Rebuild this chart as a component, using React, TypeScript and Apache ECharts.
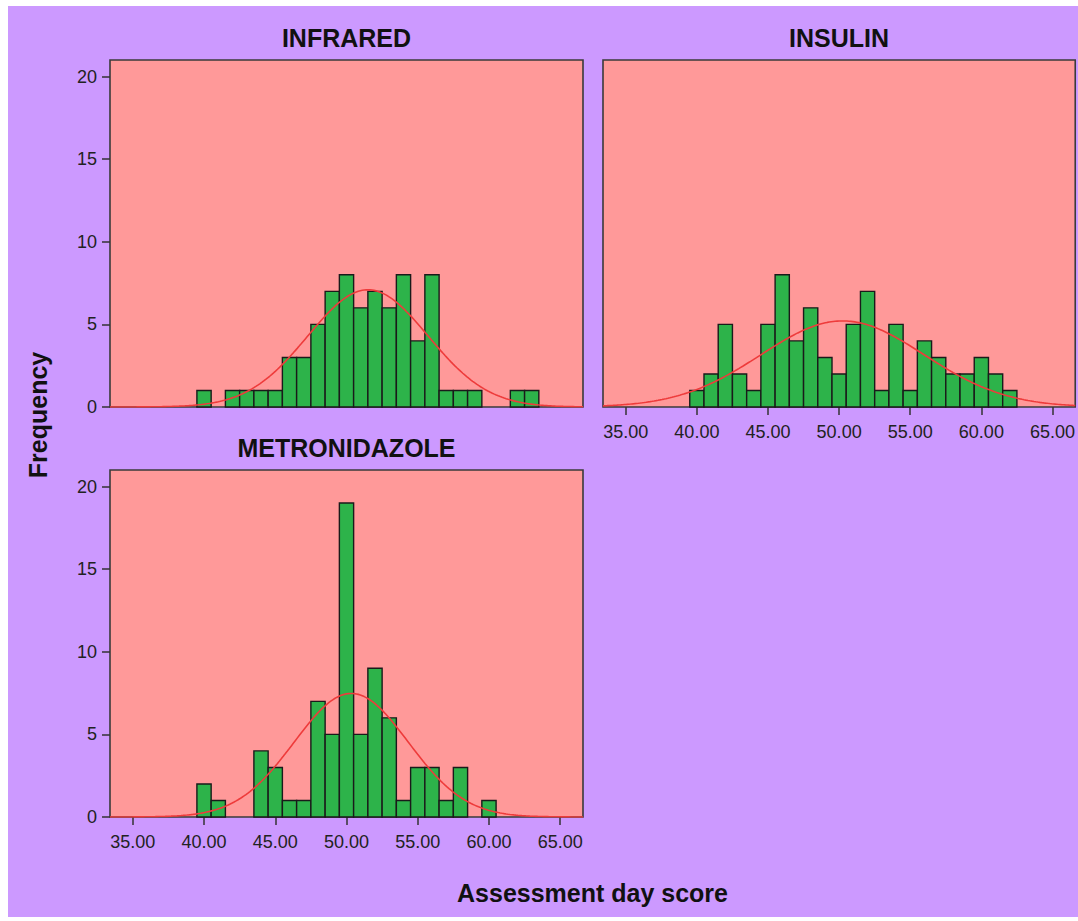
import React, { useEffect, useRef } from "react";
import * as echarts from "echarts";

// Histogram bins (bin centre = score, bin width = 1) per treatment group
const infraredScores = [40, 42, 43, 44, 45, 46, 47, 48, 49, 50, 51, 52, 53, 54, 55, 56, 57, 58, 59, 62, 63];
const infraredCounts = [1, 1, 1, 1, 1, 3, 3, 5, 7, 8, 6, 7, 6, 8, 4, 8, 1, 1, 1, 1, 1];

const insulinScores = [40, 41, 42, 43, 44, 45, 46, 47, 48, 49, 50, 51, 52, 53, 54, 55, 56, 57, 58, 59, 60, 61, 62];
const insulinCounts = [1, 2, 5, 2, 1, 5, 8, 4, 6, 3, 2, 5, 7, 1, 5, 1, 4, 3, 2, 2, 3, 2, 1];

const metronidazoleScores = [40, 41, 44, 45, 46, 47, 48, 49, 50, 51, 52, 53, 54, 55, 56, 57, 58, 60];
const metronidazoleCounts = [2, 1, 4, 3, 1, 1, 7, 5, 19, 5, 9, 6, 1, 3, 3, 1, 3, 1];

const groupNames = ["INFRARED", "INSULIN", "METRONIDAZOLE"];
const frequencyTicks = [0, 5, 10, 15, 20];
const scoreTicks = [35, 40, 45, 50, 55, 60, 65];
const binWidth = 1;
const scoreMin = 33.4;
const scoreMax = 66.6;
const frequencyMax = 21;

const FONT = "'Liberation Sans', Arial, sans-serif";

// Normal curve fitted to the binned scores, scaled to counts per bin
function fittedNormal(scores: number[], counts: number[]): number[][] {
  const n = counts.reduce((a, b) => a + b, 0);
  const mean = scores.reduce((s, x, i) => s + x * counts[i], 0) / n;
  const variance = scores.reduce((s, x, i) => s + counts[i] * (x - mean) ** 2, 0) / (n - 1);
  const sd = Math.sqrt(variance);
  const pts: number[][] = [];
  const steps = 240;
  for (let i = 0; i <= steps; i++) {
    const x = scoreMin + ((scoreMax - scoreMin) * i) / steps;
    const z = (x - mean) / sd;
    const y = (n * binWidth * Math.exp(-0.5 * z * z)) / (sd * Math.sqrt(2 * Math.PI));
    pts.push([x, y]);
  }
  return pts;
}

const groups = [
  { name: groupNames[0], scores: infraredScores, counts: infraredCounts },
  { name: groupNames[1], scores: insulinScores, counts: insulinCounts },
  { name: groupNames[2], scores: metronidazoleScores, counts: metronidazoleCounts },
];

// Panel placement: [left, top], and which axes show labels
const panels = [
  { left: 102, top: 54, showY: true, showX: false },
  { left: 595, top: 54, showY: false, showX: true },
  { left: 102, top: 464, showY: true, showX: true },
];
const panelWidth = 473;
const panelHeight = 347;

export default function App() {
  const ref = useRef<HTMLDivElement>(null);

  useEffect(() => {
    if (!ref.current) return;
    const chart = echarts.init(ref.current, undefined, { renderer: "svg" });

    const grid = panels.map((p) => ({
      left: p.left,
      top: p.top,
      width: panelWidth,
      height: panelHeight,
      show: true,
      backgroundColor: "#FF9999",
      borderColor: "#3a3a3a",
      borderWidth: 1.6,
      containLabel: false,
    }));

    const xAxis = panels.map((p, i) => ({
      type: "value",
      gridIndex: i,
      min: scoreMin,
      max: scoreMax,
      splitLine: { show: false },
      axisLine: { show: false },
      axisTick: {
        show: p.showX,
        customValues: scoreTicks,
        length: 8,
        lineStyle: { color: "#333", width: 1.5 },
      },
      axisLabel: {
        show: p.showX,
        customValues: scoreTicks,
        formatter: (v: number) => v.toFixed(2),
        fontSize: 18,
        fontFamily: FONT,
        color: "#222",
        margin: 16,
      },
    }));

    const yAxis = panels.map((p, i) => ({
      type: "value",
      gridIndex: i,
      min: 0,
      max: frequencyMax,
      splitLine: { show: false },
      axisLine: { show: false },
      axisTick: {
        show: p.showY,
        customValues: frequencyTicks,
        length: 8,
        lineStyle: { color: "#333", width: 1.5 },
      },
      axisLabel: {
        show: p.showY,
        customValues: frequencyTicks,
        fontSize: 18,
        fontFamily: FONT,
        color: "#222",
        margin: 13,
      },
    }));

    const series: any[] = [];
    groups.forEach((g, i) => {
      series.push({
        type: "custom",
        name: g.name,
        xAxisIndex: i,
        yAxisIndex: i,
        data: g.scores.map((s, k) => [s, g.counts[k]]),
        encode: { x: 0, y: 1 },
        renderItem: (_params: any, api: any) => {
          const x = api.value(0);
          const y = api.value(1);
          const p0 = api.coord([x - binWidth / 2, y]);
          const p1 = api.coord([x + binWidth / 2, 0]);
          return {
            type: "rect",
            shape: { x: p0[0], y: p0[1], width: p1[0] - p0[0], height: p1[1] - p0[1] },
            style: { fill: "#2DB34A", stroke: "#1a1a1a", lineWidth: 1.4 },
          };
        },
        z: 2,
      });
      series.push({
        type: "line",
        name: g.name + " normal",
        xAxisIndex: i,
        yAxisIndex: i,
        data: fittedNormal(g.scores, g.counts),
        showSymbol: false,
        symbol: "none",
        lineStyle: { color: "#EE3B3B", width: 1.6 },
        z: 3,
      });
    });

    const titleFont = `bold 25px ${FONT}`;
    const graphic = [
      { type: "text", x: 338.5, y: 32, style: { text: groupNames[0], font: titleFont, fill: "#111", textAlign: "center", textVerticalAlign: "middle" } },
      { type: "text", x: 831, y: 32, style: { text: groupNames[1], font: titleFont, fill: "#111", textAlign: "center", textVerticalAlign: "middle" } },
      { type: "text", x: 338.5, y: 442, style: { text: groupNames[2], font: titleFont, fill: "#111", textAlign: "center", textVerticalAlign: "middle" } },
      { type: "text", x: 30, y: 409, rotation: Math.PI / 2, style: { text: "Frequency", font: titleFont, fill: "#111", textAlign: "center", textVerticalAlign: "middle" } },
      { type: "text", x: 584.5, y: 887, style: { text: "Assessment day score", font: titleFont, fill: "#111", textAlign: "center", textVerticalAlign: "middle" } },
    ];

    chart.setOption({
      animation: false,
      backgroundColor: "#CC99FF",
      grid,
      xAxis,
      yAxis,
      series,
      graphic,
    });

    return () => chart.dispose();
  }, []);

  return <div ref={ref} style={{ position: "absolute", left: 8, top: 6, width: 1070, height: 911 }} />;
}
